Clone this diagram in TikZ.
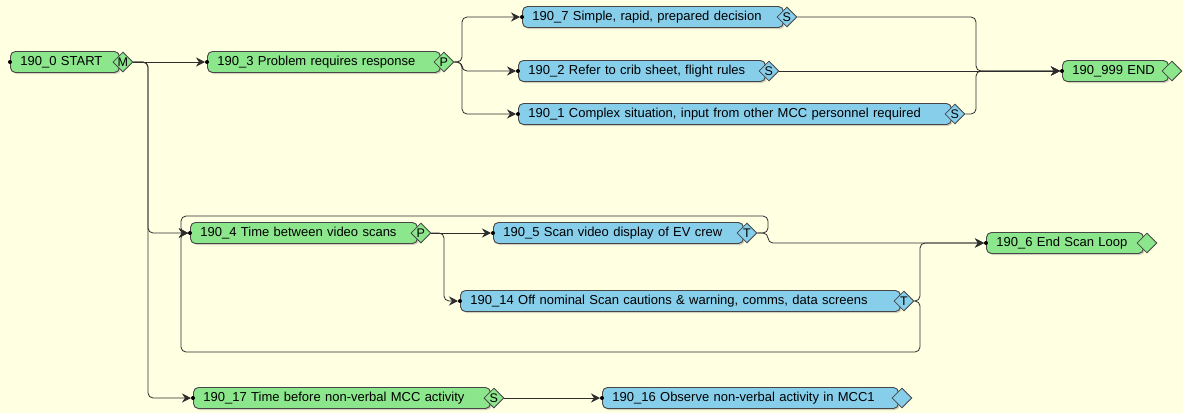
\documentclass[tikz,border=0pt]{standalone}
\usepackage{fontspec}
\setmainfont{Liberation Sans}
\usetikzlibrary{shapes.geometric,arrows.meta,shadows,positioning}

\definecolor{canvas}{RGB}{255,255,226}
\definecolor{taskgreen}{RGB}{140,230,140}
\definecolor{taskblue}{RGB}{135,206,235}
\definecolor{rim}{RGB}{70,70,70}
\definecolor{wirecol}{RGB}{45,45,45}

\tikzset{
  task/.style={draw=rim, line width=0.9pt, rounded corners=5pt,
    minimum height=21pt, inner xsep=10pt, inner ysep=0pt,
    anchor=west, align=left, font=\fontsize{13}{15}\selectfont,
    drop shadow={shadow xshift=1.5pt, shadow yshift=-1.5pt, opacity=0.35}},
  port/.style={diamond, draw=rim, line width=0.8pt, inner sep=0pt,
    minimum width=20pt, minimum height=20pt,
    font=\fontsize{12.5}{12.5}\selectfont},
  wire/.style={draw=wirecol, line width=0.8pt, rounded corners=5pt,
    -{Stealth[length=9pt,width=9pt]}, shorten >=2pt}
}

\begin{document}
\begin{tikzpicture}[x=1pt,y=-1pt]
\useasboundingbox (0,0) rectangle (1183,413);
\fill[canvas] (0,0) rectangle (1183,413);

% tasks
\node[task, fill=taskgreen, minimum width=109pt, text width=89pt] (n0) at (10,62) {190\_0 START};
\node[port, fill=taskgreen] (p0) at ([xshift=3pt]n0.east) {M};
\node[task, fill=taskgreen, minimum width=233pt, text width=213pt] (n3) at (207,62) {190\_3 Problem requires response};
\node[port, fill=taskgreen] (p3) at ([xshift=3pt]n3.east) {P};
\node[task, fill=taskblue, minimum width=261pt, text width=241pt] (n7) at (522,17) {190\_7 Simple, rapid, prepared decision};
\node[port, fill=taskblue] (p7) at ([xshift=3pt]n7.east) {S};
\node[task, fill=taskblue, minimum width=247pt, text width=227pt] (n2) at (518,71) {190\_2 Refer to crib sheet, flight rules};
\node[port, fill=taskblue] (p2) at ([xshift=3pt]n2.east) {S};
\node[task, fill=taskblue, minimum width=433pt, text width=413pt] (n1) at (518,114) {190\_1 Complex situation, input from other MCC personnel required};
\node[port, fill=taskblue] (p1) at ([xshift=3pt]n1.east) {S};
\node[task, fill=taskgreen, minimum width=106pt, text width=86pt] (n999) at (1062,71) {190\_999 END};
\node[port, fill=taskgreen] (p999) at ([xshift=3pt]n999.east) {};

\node[task, fill=taskgreen, minimum width=227pt, text width=207pt] (n4) at (190,233) {190\_4 Time between video scans};
\node[port, fill=taskgreen] (p4) at ([xshift=3pt]n4.east) {P};
\node[task, fill=taskblue, minimum width=250pt, text width=230pt] (n5) at (493,233) {190\_5 Scan video display of EV crew};
\node[port, fill=taskblue] (p5) at ([xshift=3pt]n5.east) {T};
\node[task, fill=taskgreen, minimum width=157pt, text width=137pt] (n6) at (986,243) {190\_6 End Scan Loop};
\node[port, fill=taskgreen] (p6) at ([xshift=3pt]n6.east) {};
\node[task, fill=taskblue, minimum width=440pt, text width=420pt] (n14) at (460,301) {190\_14 Off nominal Scan cautions \& warning, comms, data screens};
\node[port, fill=taskblue] (p14) at ([xshift=3pt]n14.east) {T};

\node[task, fill=taskgreen, minimum width=297pt, text width=277pt] (n17) at (193,398) {190\_17 Time before non-verbal MCC activity};
\node[port, fill=taskgreen] (p17) at ([xshift=3pt]n17.east) {S};
\node[task, fill=taskblue, minimum width=296pt, text width=276pt] (n16) at (602,398) {190\_16 Observe non-verbal activity in MCC1};
\node[port, fill=taskblue] (p16) at ([xshift=3pt]n16.east) {};

% input dots
\foreach \n in {n0,n3,n7,n2,n1,n999,n4,n5,n6,n14,n17,n16}
  \fill (\n.west) circle (2pt);

% bends
\coordinate (fork0) at (148,62);
\coordinate (fork3) at (462,62);
\coordinate (join999) at (976,71);
\coordinate (fork4) at (444,233);
\coordinate (fork5) at (768,233);
\coordinate (top5) at (768,216);
\coordinate (top4) at (181,216);
\coordinate (fork14) at (920,301);
\coordinate (bot14) at (920,352);
\coordinate (bot4) at (181,352);
\coordinate (loopin) at (181,233);

% connectors
\draw[wire] (p0.east) -- (n3.west);
\draw[wire] (p0.east) -- (fork0) |- (n4.west);
\draw[wire] (p0.east) -- (fork0) |- (n17.west);
\draw[wire] (p3.east) -- (fork3) |- (n7.west);
\draw[wire] (p3.east) -- (fork3) |- (n2.west);
\draw[wire] (p3.east) -- (fork3) |- (n1.west);
\draw[wire] (p7.east) -| (join999) -- (n999.west);
\draw[wire] (p2.east) -- (n999.west);
\draw[wire] (p1.east) -| (join999) -- (n999.west);
\draw[wire] (p4.east) -- (n5.west);
\draw[wire] (p4.east) -- (fork4) |- (n14.west);
\draw[wire] (p5.east) -- (fork5) |- (n6.west);
\draw[wire] (p5.east) -- (fork5) -- (top5) -- (top4) -- (loopin) -- (n4.west);
\draw[wire] (p14.east) -- (fork14) |- (n6.west);
\draw[wire] (p14.east) -- (fork14) -- (bot14) -- (bot4) -- (loopin) -- (n4.west);
\draw[wire] (p17.east) -- (n16.west);
\end{tikzpicture}
\end{document}
